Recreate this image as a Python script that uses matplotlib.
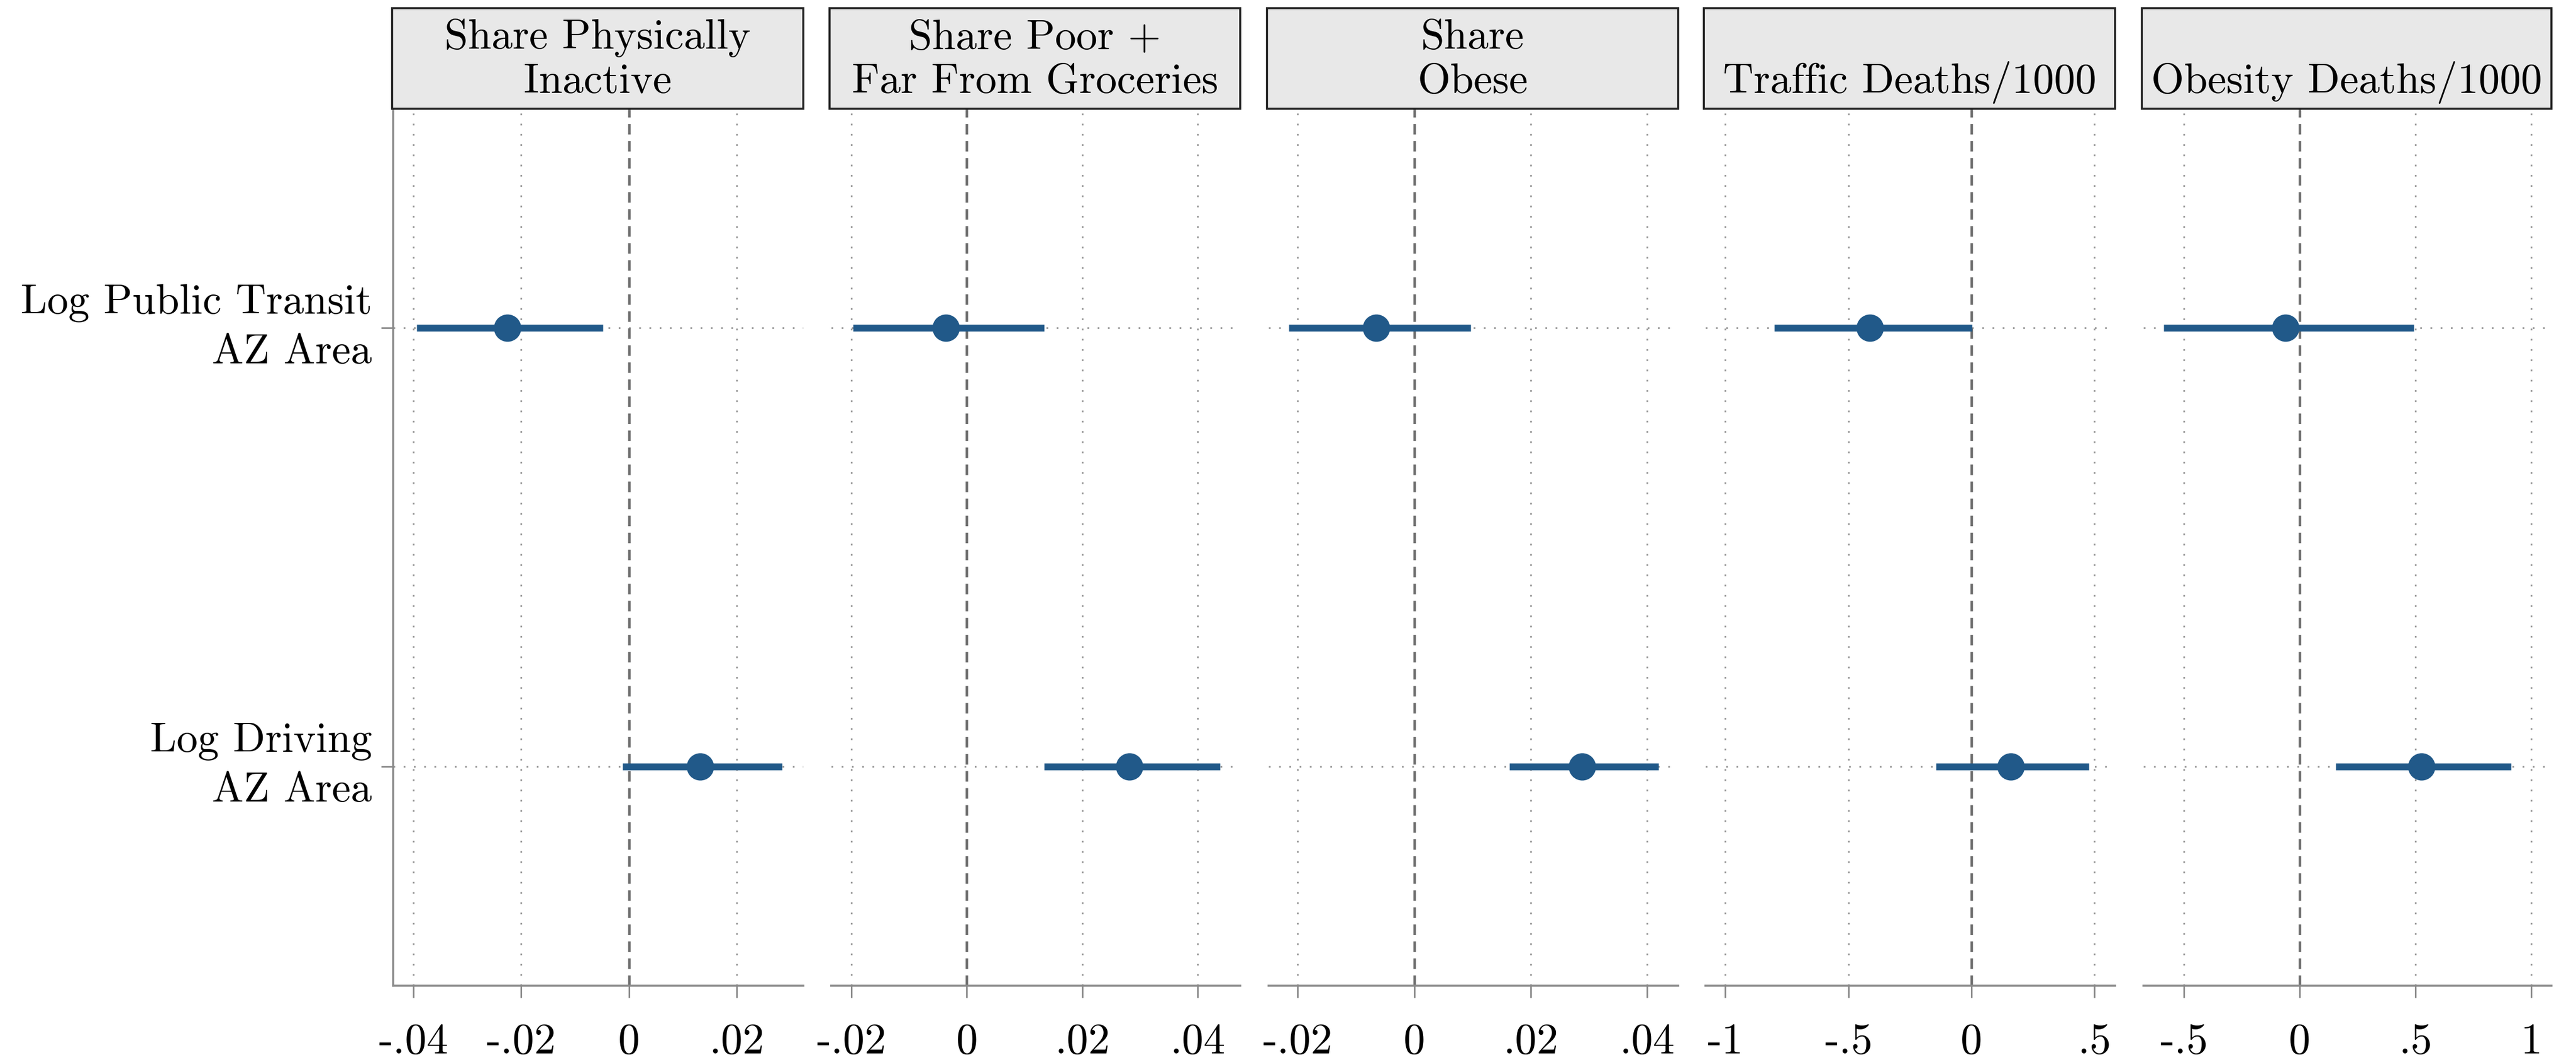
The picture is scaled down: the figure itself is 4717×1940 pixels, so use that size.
import matplotlib
matplotlib.use("Agg")
import matplotlib.pyplot as plt
from matplotlib.patches import Rectangle

plt.rcParams['font.family'] = ['cmr10', 'DejaVu Serif']
plt.rcParams['axes.unicode_minus'] = False
plt.rcParams['axes.formatter.use_mathtext'] = True

# ---------------- data ----------------
panel_titles = [
    ["Share Physically", "Inactive"],
    ["Share Poor +", "Far From Groceries"],
    ["Share", "Obese"],
    ["Traffic Deaths/1000"],
    ["Obesity Deaths/1000"],
]
row_labels = ["Log Public Transit\nAZ Area", "Log Driving\nAZ Area"]

transit_coef = [-0.0225, -0.0036, -0.0065, -0.413, -0.062]
transit_lo = [-0.0393, -0.0197, -0.0215, -0.802, -0.587]
transit_hi = [-0.0048, 0.0134, 0.0097, 0.002, 0.492]

driving_coef = [0.0132, 0.0282, 0.0288, 0.160, 0.526]
driving_lo = [-0.0012, 0.0134, 0.0163, -0.144, 0.156]
driving_hi = [0.0284, 0.0439, 0.0419, 0.478, 0.913]

tick_values = [
    [-0.04, -0.02, 0, 0.02],
    [-0.02, 0, 0.02, 0.04],
    [-0.02, 0, 0.02, 0.04],
    [-1, -0.5, 0, 0.5],
    [-0.5, 0, 0.5, 1],
]
tick_labels = [
    ["-.04", "-.02", "0", ".02"],
    ["-.02", "0", ".02", ".04"],
    ["-.02", "0", ".02", ".04"],
    ["-1", "-.5", "0", ".5"],
    ["-.5", "0", ".5", "1"],
]
x_limits = [
    (-0.0437, 0.0323),
    (-0.0235, 0.0474),
    (-0.0250, 0.0453),
    (-1.081, 0.584),
    (-0.675, 1.087),
]

# ---------------- layout ----------------
W, H = 4717, 1940
DPI = 300
fig = plt.figure(figsize=(W / DPI, H / DPI), dpi=DPI)

panel_px = [(720, 1471), (1522, 2271), (2323, 3073), (3123, 3873), (3925, 4672)]
ax_top_px, ax_bot_px = 199, 1804
strip_top_px = 15

blue = '#215989'
grid_col = '#9a9a9a'
spine_col = '#8a8a8a'
fs_tick = 19
fs_text = 18.6

def fy(px):
    return 1 - px / H

for i, (l, r) in enumerate(panel_px):
    ax = fig.add_axes([l / W, fy(ax_bot_px), (r - l) / W, (ax_bot_px - ax_top_px) / H])
    ax.set_xlim(*x_limits[i])
    ax.set_ylim(2.5, 0.5)

    # grid
    for t in tick_values[i]:
        if t != 0:
            ax.axvline(t, color=grid_col, lw=0.75, ls=(0, (1, 5)), zorder=1)
    for yv in (1, 2):
        ax.axhline(yv, color=grid_col, lw=0.75, ls=(0, (1, 5)), zorder=1)
    ax.axvline(0, color='#6e6e6e', lw=1.1, ls=(0, (4.2, 2.6)), zorder=2)

    # CIs and points
    ys = [1, 2]
    lo = [transit_lo[i], driving_lo[i]]
    hi = [transit_hi[i], driving_hi[i]]
    cf = [transit_coef[i], driving_coef[i]]
    ax.hlines(ys, lo, hi, color=blue, lw=3.0, zorder=3, capstyle='butt')
    ax.plot(cf, ys, 'o', color=blue, ms=11, mec=blue, zorder=4)

    # axes styling
    for s in ('top', 'right'):
        ax.spines[s].set_visible(False)
    ax.spines['bottom'].set_color(spine_col)
    ax.spines['bottom'].set_linewidth(0.9)
    if i == 0:
        ax.spines['left'].set_color(spine_col)
        ax.spines['left'].set_linewidth(0.9)
        ax.set_yticks([1, 2])
        ax.set_yticklabels(row_labels, fontsize=fs_text, linespacing=1.38,
                           ha='right', va='center')
        ax.tick_params(axis='y', length=5.3, width=0.7, color=spine_col, pad=4)
    else:
        ax.spines['left'].set_visible(False)
        ax.set_yticks([])

    ax.set_xticks(tick_values[i])
    ax.set_xticklabels(tick_labels[i], fontsize=fs_tick)
    ax.tick_params(axis='x', length=5.3, width=0.7, color=spine_col, pad=11)

    # strip header
    sl = l - 2 if i == 0 else l - 3
    rect = Rectangle((sl / W, fy(ax_top_px)), (r - sl) / W, (ax_top_px - strip_top_px) / H,
                     transform=fig.transFigure, facecolor='#e8e8e8',
                     edgecolor='#222222', lw=0.9, zorder=5)
    fig.patches.append(rect)
    cx = (sl + r) / 2 / W
    lines = panel_titles[i]
    baselines = [89, 170] if len(lines) == 2 else [170]
    for txt, b in zip(lines, baselines):
        fig.text(cx, fy(b), txt, ha='center', va='baseline', fontsize=fs_text, zorder=6)

fig.savefig("out.png", dpi=DPI)
